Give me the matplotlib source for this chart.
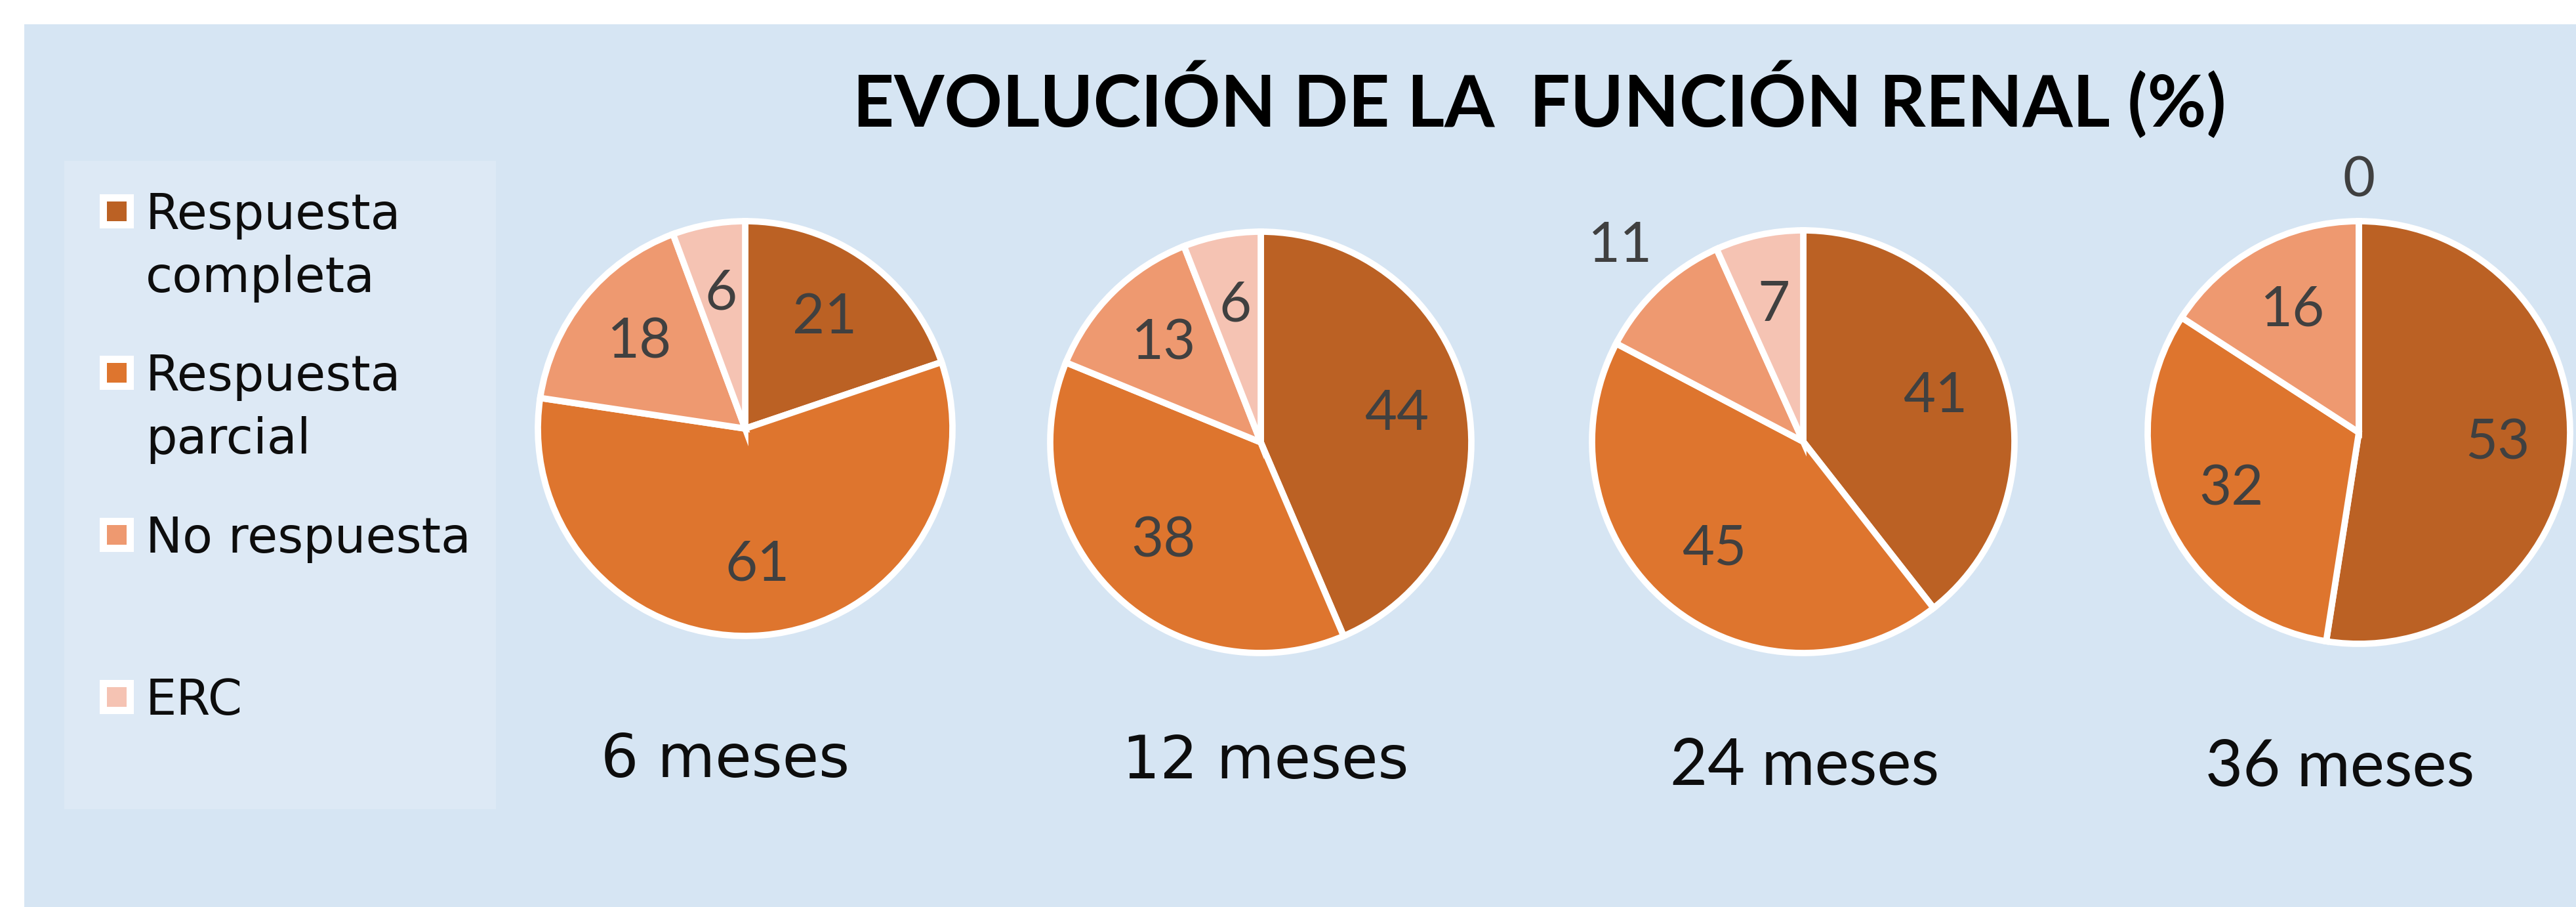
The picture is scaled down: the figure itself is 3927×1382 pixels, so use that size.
import matplotlib
matplotlib.use("Agg")
import numpy as np
import matplotlib.pyplot as plt
from matplotlib.patches import Rectangle

# ---------------- data ----------------
TITLE = "EVOLUCIÓN DE LA  FUNCIÓN RENAL (%)"
CATEGORIES = ["Respuesta\ncompleta", "Respuesta\nparcial", "No respuesta", "ERC"]
PERIODS = ["6 meses", "12 meses", "24 meses", "36 meses"]
VAL_6 = [21, 61, 18, 6]
VAL_12 = [44, 38, 13, 6]
VAL_24 = [41, 45, 11, 7]
VAL_36 = [53, 32, 16, 0]
SERIES = [VAL_6, VAL_12, VAL_24, VAL_36]

# ---------------- style ----------------
COLORS = ["#BB6124", "#DE752E", "#EE9970", "#F5C3B3"]
BG = "#D6E5F3"
LEGEND_BG = "#DDE9F5"
LABEL_COLOR = "#404040"

W, H, DPI = 3927, 1382, 100

fig = plt.figure(figsize=(W / DPI, H / DPI), dpi=DPI, facecolor="white")


def fx(px):
    return px / W


def fy(py):
    return 1 - py / H


# background panel
fig.patches.append(Rectangle((fx(37), 0), 1 - fx(37), fy(37), transform=fig.transFigure,
                             facecolor=BG, edgecolor="none", zorder=0))
# legend panel
fig.patches.append(Rectangle((fx(98), fy(1233)), fx(756) - fx(98), fy(245) - fy(1233),
                             transform=fig.transFigure, facecolor=LEGEND_BG,
                             edgecolor="none", zorder=0))

# title
fig.text(fx(2347), fy(193), TITLE, ha="center", va="baseline", fontsize=79,
         fontweight="bold", family="Lato", color="#000000")

# legend entries
leg_y = [322, 568, 815, 1062]
for cat, col, y in zip(CATEGORIES, COLORS, leg_y):
    fig.patches.append(Rectangle((fx(178 - 26), fy(y + 26)), fx(52), 52 / H,
                                 transform=fig.transFigure, facecolor="white",
                                 edgecolor="none", zorder=1))
    fig.patches.append(Rectangle((fx(178 - 15), fy(y + 15)), fx(30), 30 / H,
                                 transform=fig.transFigure, facecolor=col,
                                 edgecolor="none", zorder=2))
    for k, line in enumerate(cat.split("\n")):
        fig.text(fx(222), fy(y + 27 + k * 96), line, ha="left", va="baseline",
                 fontsize=54, family="DejaVu Sans", color="#0D0D0D")

# pies
centers = [(1136, 653), (1922, 674), (2749, 673), (3596, 659)]
radii = [316, 321, 322, 322]
period_pos = [(1106, 1184), (1929, 1186), (2751, 1196), (3567, 1198)]
period_font = [("DejaVu Sans", 65), ("DejaVu Sans", 65), ("Lato", 71), ("Lato", 71)]
inside_d = 0.66
outside_d = {(2, 2): 1.27, (3, 3): 1.19}

for i, (vals, (cx, cy), r) in enumerate(zip(SERIES, centers, radii)):
    ax = fig.add_axes([fx(cx - r), fy(cy + r), 2 * r / W, 2 * r / H])
    ax.set_zorder(5)
    wedges, _ = ax.pie(vals, colors=COLORS, startangle=90, counterclock=False,
                       radius=1, wedgeprops=dict(edgecolor="white", linewidth=7))
    ax.set_xlim(-1, 1)
    ax.set_ylim(-1, 1)
    ax.set_aspect("equal")
    ax.axis("off")
    for j, (w, v) in enumerate(zip(wedges, vals)):
        mid = np.deg2rad((w.theta1 + w.theta2) / 2)
        d = outside_d.get((i, j), inside_d)
        ax.text(d * np.cos(mid), d * np.sin(mid), str(v), ha="center", va="center",
                fontsize=61, family="Lato", color=LABEL_COLOR, clip_on=False)
    px, py = period_pos[i]
    fam, fs = period_font[i]
    fig.text(fx(px), fy(py), PERIODS[i], ha="center", va="baseline",
             fontsize=fs, family=fam, color="#0D0D0D")

fig.savefig("out.png", dpi=DPI, facecolor="white")
